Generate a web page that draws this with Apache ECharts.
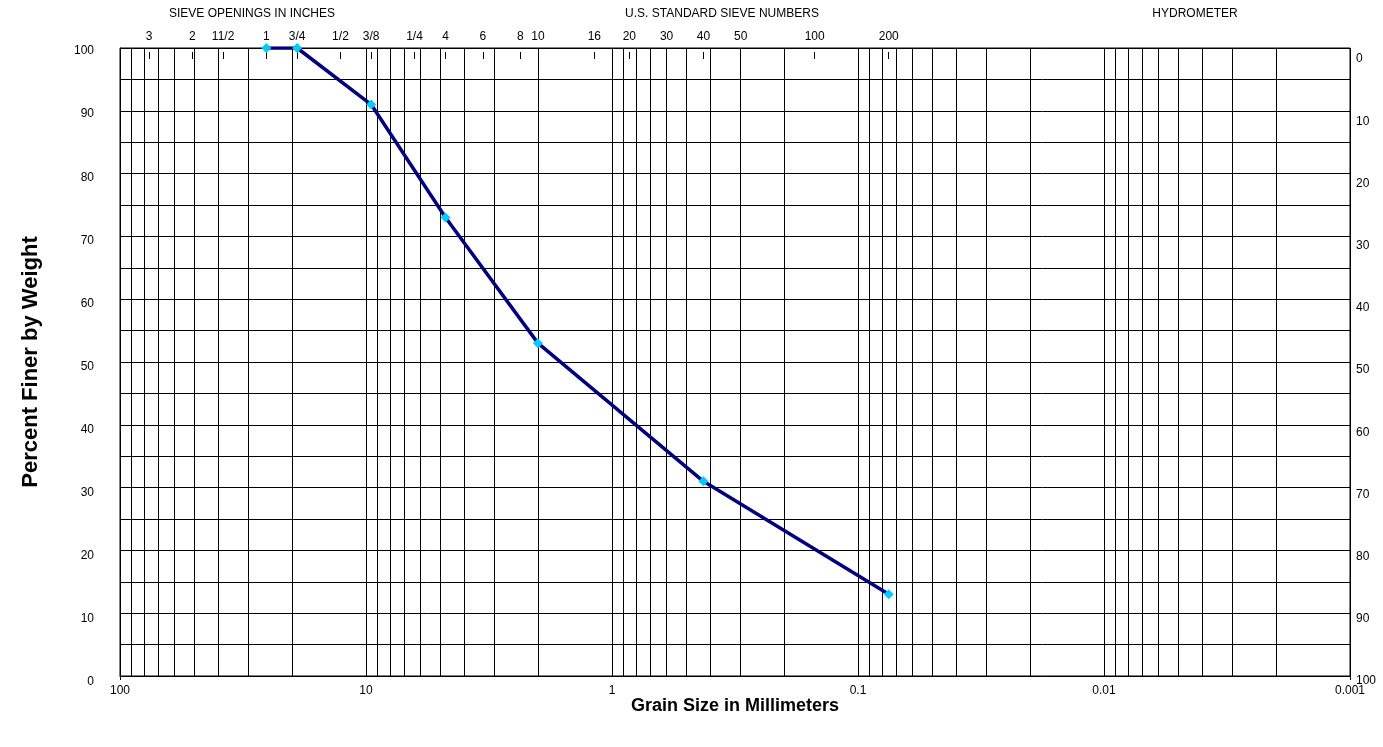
<!DOCTYPE html>
<html>
<head>
<meta charset="utf-8">
<title>Grain Size Distribution</title>
<script src="https://cdn.jsdelivr.net/npm/echarts@6/dist/echarts.min.js"></script>
<style>
  html, body { margin: 0; padding: 0; background: #fff; }
  #chart { width: 1383px; height: 747px; }
</style>
</head>
<body>
<div id="chart"></div>
<script>
// Sieve analysis results: grain size (mm) vs. percent finer by weight
const grainSizeMm = [25.4, 19.05, 9.525, 4.75, 2.0, 0.425, 0.075];
const percentFiner = [100, 100, 91, 73, 53, 31, 13];

// Standard sieve openings (mm) and the names printed above the plot
const sieveSizesMm = [76.2, 50.8, 38.1, 25.4, 19.05, 12.7, 9.525, 6.35, 4.75, 3.35, 2.36, 2.0, 1.18, 0.85, 0.6, 0.425, 0.3, 0.15, 0.075];
const sieveLabels = ['3', '2', '11/2', '1', '3/4', '1/2', '3/8', '1/4', '4', '6', '8', '10', '16', '20', '30', '40', '50', '100', '200'];

// Decade labels along the grain-size axis
const decadeTicks = [100, 10, 1, 0.1, 0.01, 0.001];

// Group headings above the sieve labels
const groupHeadings = ['SIEVE OPENINGS IN INCHES', 'U.S. STANDARD SIEVE NUMBERS', 'HYDROMETER'];

// Log-paper vertical rulings: 1..9 x 10^k across each decade
const logRulings = [];
for (let k = -3; k <= 1; k++) {
  for (let m = 1; m <= 9; m++) {
    logRulings.push(Number((m * Math.pow(10, k)).toPrecision(6)));
  }
}
logRulings.push(100);

const FONT = "'Liberation Sans', Arial, sans-serif";
const chart = echarts.init(document.getElementById('chart'), null, { renderer: 'canvas' });

function sieveName(value) {
  let best = 0;
  for (let i = 1; i < sieveSizesMm.length; i++) {
    if (Math.abs(Math.log(sieveSizesMm[i] / value)) < Math.abs(Math.log(sieveSizesMm[best] / value))) best = i;
  }
  return sieveLabels[best];
}

const option = {
  animation: false,
  backgroundColor: '#fff',
  textStyle: { fontFamily: FONT },
  graphic: [
    { type: 'text', x: 252, y: 14, style: { text: groupHeadings[0], font: '12px ' + FONT, fill: '#000', textAlign: 'center', textVerticalAlign: 'middle' } },
    { type: 'text', x: 722, y: 14, style: { text: groupHeadings[1], font: '12px ' + FONT, fill: '#000', textAlign: 'center', textVerticalAlign: 'middle' } },
    { type: 'text', x: 1195, y: 14, style: { text: groupHeadings[2], font: '12px ' + FONT, fill: '#000', textAlign: 'center', textVerticalAlign: 'middle' } }
  ],
  grid: [
    { left: 120, right: 33, top: 48, bottom: 71, show: true, borderColor: '#000', borderWidth: 1, backgroundColor: '#fff' },
    { left: 120, right: 33, top: 59, bottom: 66 },
    { left: 120, right: 33, top: 51, bottom: 65 }
  ],
  xAxis: [
    {
      gridIndex: 0, type: 'log', logBase: 10, min: 0.001, max: 100, inverse: true, position: 'bottom',
      name: 'Grain Size in Millimeters', nameLocation: 'middle', nameGap: 21, nameMoveOverlap: false,
      nameTextStyle: { fontSize: 18, fontWeight: 'bold', color: '#000', fontFamily: FONT },
      axisLine: { show: true, lineStyle: { color: '#000', width: 1 } },
      axisTick: { show: true, length: 4, customValues: [100, 0.001], lineStyle: { color: '#000' } },
      axisLabel: { customValues: decadeTicks, margin: 9, fontSize: 12, color: '#000', fontFamily: FONT,
        formatter: v => String(Number(v.toPrecision(6))) },
      splitLine: { show: false }
    },
    {
      gridIndex: 0, type: 'log', logBase: 10, min: 0.001, max: 100, inverse: true, position: 'top', offset: -4,
      axisLine: { show: false },
      axisTick: { show: true, inside: true, length: 7, customValues: sieveSizesMm, lineStyle: { color: '#000', width: 1 } },
      axisLabel: { customValues: sieveSizesMm, margin: 9, fontSize: 12, color: '#000', fontFamily: FONT, formatter: sieveName },
      splitLine: { show: false }
    },
    { gridIndex: 1, type: 'value', show: false, min: 0, max: 1 },
    { gridIndex: 2, type: 'value', show: false, min: 0, max: 1 }
  ],
  yAxis: [
    {
      gridIndex: 0, type: 'value', min: 0, max: 100, interval: 10, position: 'left',
      name: 'Percent Finer by Weight', nameLocation: 'middle', nameGap: 78, nameRotate: 90,
      nameTextStyle: { fontSize: 22, fontWeight: 'bold', color: '#000', fontFamily: FONT },
      axisLine: { show: true, lineStyle: { color: '#000', width: 1 } },
      axisTick: { show: true, inside: true, length: 8, lineStyle: { color: '#000' } },
      axisLabel: { show: false },
      splitLine: { show: true, lineStyle: { color: '#000', width: 1 } },
      minorTick: { show: false, splitNumber: 2 },
      minorSplitLine: { show: true, lineStyle: { color: '#000', width: 1 } }
    },
    {
      gridIndex: 1, type: 'value', min: 0, max: 100, interval: 10, inverse: true, position: 'right',
      axisLine: { show: false }, axisTick: { show: false }, splitLine: { show: false },
      axisLabel: { margin: 6, fontSize: 12, color: '#000', fontFamily: FONT }
    },
    {
      gridIndex: 2, type: 'value', min: 0, max: 100, interval: 10, position: 'left',
      axisLine: { show: false }, axisTick: { show: false }, splitLine: { show: false },
      axisLabel: { margin: 26, fontSize: 12, color: '#000', fontFamily: FONT }
    }
  ],
  series: [
    {
      name: 'rulings', type: 'lines', coordinateSystem: 'cartesian2d', xAxisIndex: 0, yAxisIndex: 0,
      z: 1, silent: true, polyline: false,
      lineStyle: { color: '#000', width: 1, opacity: 1, type: 'solid' },
      emphasis: { disabled: true },
      data: logRulings.map(v => ({ coords: [[v, 0], [v, 100]] }))
    },
    {
      name: 'Percent Finer', type: 'line', xAxisIndex: 0, yAxisIndex: 0, z: 5,
      data: grainSizeMm.map((d, i) => [d, percentFiner[i]]),
      lineStyle: { color: '#000080', width: 3.5 },
      itemStyle: { color: '#00CCFF' },
      symbol: 'diamond', symbolSize: 10, showSymbol: true
    }
  ]
};

chart.setOption(option);
</script>
</body>
</html>
